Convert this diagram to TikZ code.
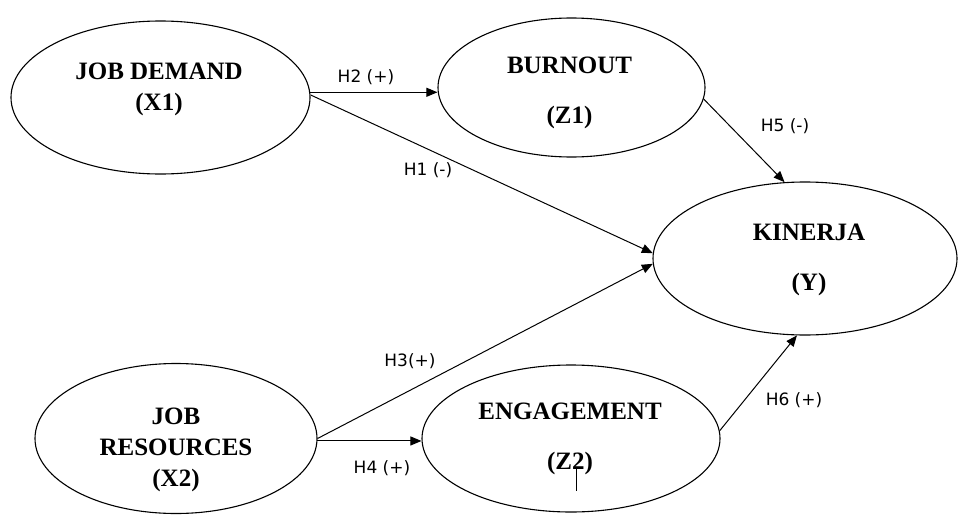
\documentclass[tikz,border=0pt]{standalone}
\usepackage{fontspec}
\setmainfont{Liberation Serif}
\newfontfamily\hypfont{DejaVu Sans}
\usepackage{tikz}
\usetikzlibrary{arrows.meta,positioning,calc,shapes.geometric}

\begin{document}
\begin{tikzpicture}[
  x=1pt, y=-1pt,
  latent/.style={draw, ellipse, line width=1.1pt, inner sep=0pt},
  vartext/.style={font=\fontsize{25}{31}\selectfont\bfseries, align=center, inner sep=0pt},
  hyp/.style={-{Triangle[length=11pt,width=9pt]}, line width=1pt},
  hyplabel/.style={font=\hypfont\fontsize{17}{20}\selectfont, inner sep=0pt}
]
\useasboundingbox (0,0) rectangle (958,514);

% constructs
\node[latent, minimum width=299pt, minimum height=153pt] (jd)  at (160.5,97.5) {};
\node[latent, minimum width=267pt, minimum height=139pt] (bo)  at (571.5,87.5) {};
\node[latent, minimum width=304pt, minimum height=153pt] (kin) at (805,258.5) {};
\node[latent, minimum width=282pt, minimum height=150pt] (jr)  at (176,438.5) {};
\node[latent, minimum width=298pt, minimum height=147pt] (eng) at (571,438.5) {};

\node[vartext] (jdtxt)  at (159,89)    {JOB DEMAND\\(X1)};
\node[vartext] (botxt)  at (569.5,92.5) {BURNOUT\\[19pt](Z1)};
\node[vartext] (kintxt) at (809,259.5)  {KINERJA\\[19pt](Y)};
\node[vartext] (jrtxt)  at (176,449.5)  {JOB\\RESOURCES\\(X2)};
\node[vartext] (engtxt) at (570,439)    {ENGAGEMENT\\[19pt](Z2)};

% hypotheses
\draw[hyp] (jd.2) -- (jd.2 -| bo.west);
\draw[hyp] (jd.1) -- (kin.178);
\draw[hyp] (jr.east) -- (kin.182);
\draw[hyp] (jr.-1.5) -- (jr.-1.5 -| eng.west);
\draw[hyp] (bo.-5) -- (kin.105);
\draw[hyp] (eng.3) -- (kin.-96);

\node[hyplabel] (lblH2) at (366,77)  {H2 (+)};
\node[hyplabel] (lblH1) at (428,170) {H1 (-)};
\node[hyplabel] (lblH5) at (785,126) {H5 (-)};
\node[hyplabel] (lblH3) at (410,361) {H3(+)};
\node[hyplabel] (lblH4) at (382,468) {H4 (+)};
\node[hyplabel] (lblH6) at (794,400) {H6 (+)};

\draw[line width=0.8pt] (576,468) -- (576,491);
\end{tikzpicture}
\end{document}
